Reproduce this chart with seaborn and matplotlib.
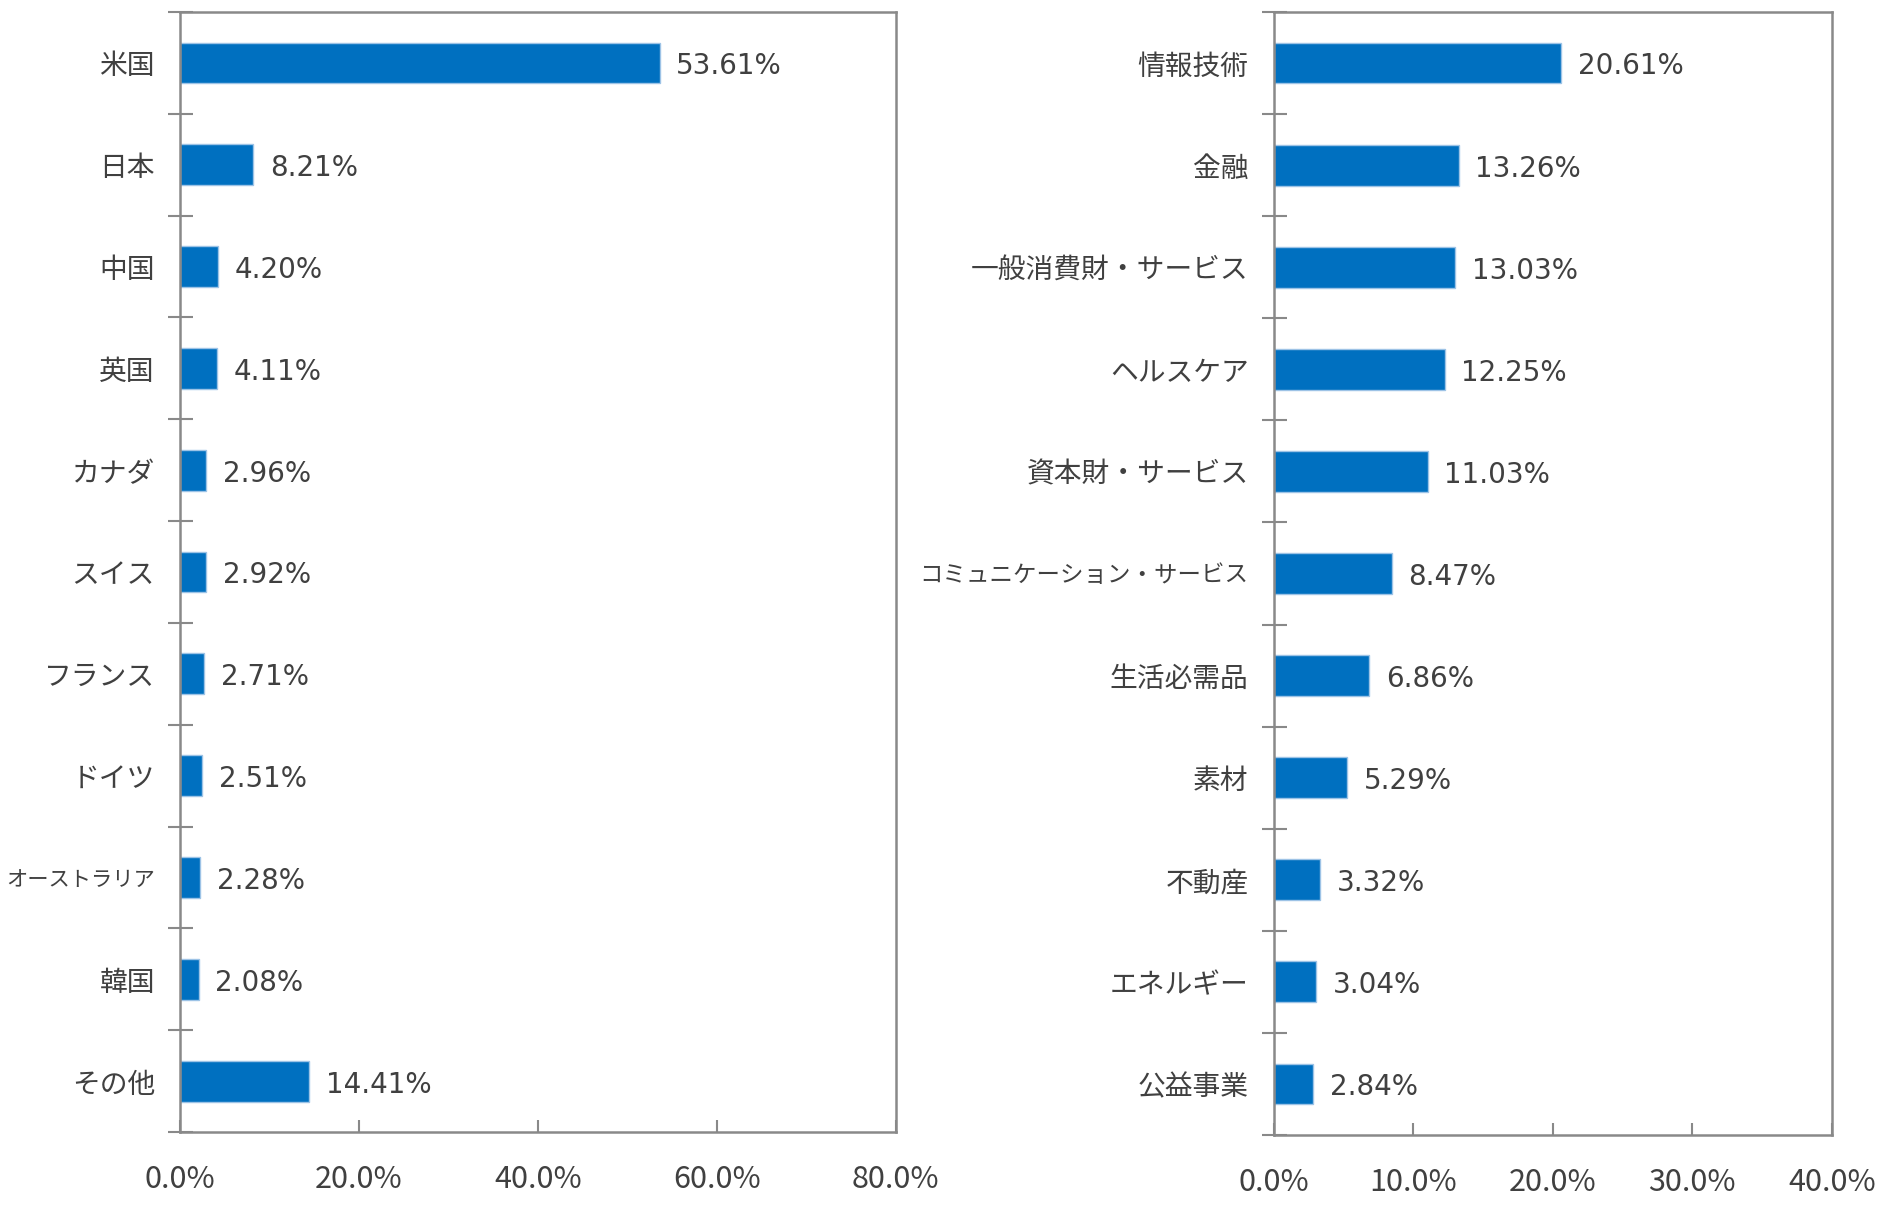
import pandas as pd
import seaborn as sns
import matplotlib.pyplot as plt
from matplotlib.ticker import FuncFormatter

# country allocation
countries = ['米国', '日本', '中国', '英国', 'カナダ', 'スイス', 'フランス', 'ドイツ',
             'オーストラリア', '韓国', 'その他']
country_pct = [53.61, 8.21, 4.20, 4.11, 2.96, 2.92, 2.71, 2.51, 2.28, 2.08, 14.41]

# sector allocation
sectors = ['情報技術', '金融', '一般消費財・サービス', 'ヘルスケア', '資本財・サービス',
           'コミュニケーション・サービス', '生活必需品', '素材', '不動産', 'エネルギー', '公益事業']
sector_pct = [20.61, 13.26, 13.03, 12.25, 11.03, 8.47, 6.86, 5.29, 3.32, 3.04, 2.84]

country_ticks = [0, 20, 40, 60, 80]
sector_ticks = [0, 10, 20, 30, 40]

sns.set_style('white')
plt.rcParams['font.family'] = ['Noto Sans CJK JP', 'DejaVu Sans']

BAR = '#0070C0'
GRID = '#898989'
TXT = '#404040'

fig = plt.figure(figsize=(18.84, 12.22), dpi=100)
ax1 = fig.add_axes([0.0955, 0.0736, 0.380, 0.9166])
ax2 = fig.add_axes([0.676, 0.0712, 0.2964, 0.919])


def draw(ax, labels, values, ticks):
    df = pd.DataFrame({'name': labels, 'pct': values})
    sns.barplot(data=df, x='pct', y='name', ax=ax, color=BAR, saturation=1,
                width=0.4, edgecolor='#9DC3E6', linewidth=1)
    anns = ax.bar_label(ax.containers[0], fmt='{:.2f}%', padding=12, fontsize=20,
                        color=TXT, family='DejaVu Sans')
    for a in anns:
        a.xyann = (12, -2.5)
    n = len(labels)
    ax.set_ylim(n - 0.5, -0.5)
    ax.set_xlim(ticks[0], ticks[-1])
    ax.set_xticks(ticks)
    ax.xaxis.set_major_formatter(FuncFormatter(lambda v, p: f'{v:.1f}%'))
    ax.set_yticks(range(n))
    ax.set_yticks([i - 0.5 for i in range(n + 1)], minor=True)
    ax.tick_params(axis='y', which='major', length=0, pad=18, labelsize=20, labelcolor=TXT)
    ax.tick_params(axis='y', which='minor', left=True, direction='inout', length=18,
                   width=1.5, color=GRID)
    ax.tick_params(axis='x', which='major', bottom=True, direction='in', length=9,
                   width=1.5, color=GRID, pad=23, labelsize=22, labelcolor=TXT)
    for s in ax.spines.values():
        s.set_visible(True)
        s.set_color(GRID)
        s.set_linewidth(1.8)
    ax.set_xlabel('')
    ax.set_ylabel('')


draw(ax1, countries, country_pct, country_ticks)
draw(ax2, sectors, sector_pct, sector_ticks)

# shrink the few long katakana labels so they stay inside their column
fig.canvas.draw()
r = fig.canvas.get_renderer()
for ax, left_lim in [(ax1, 6), (ax2, 920)]:
    for t in ax.get_yticklabels():
        bb = t.get_window_extent(r)
        if bb.x0 < left_lim:
            avail = bb.x1 - left_lim
            t.set_fontsize(t.get_fontsize() * avail / bb.width)

fig.savefig('out.png', dpi=100)
